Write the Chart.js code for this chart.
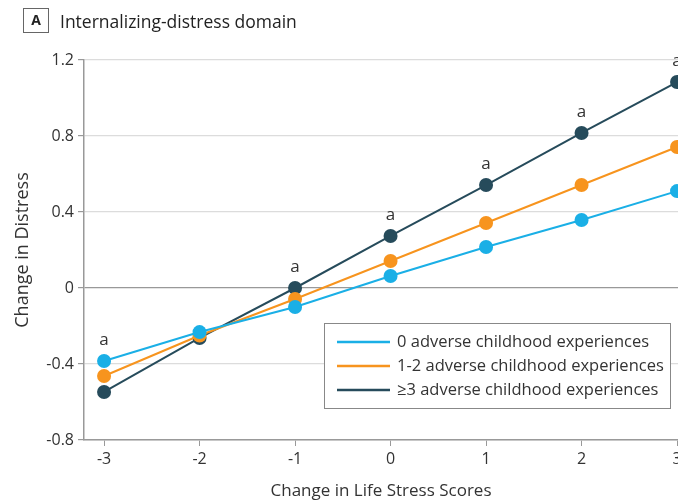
<!DOCTYPE html>
<html>
<head>
<meta charset="utf-8">
<script src="https://cdn.jsdelivr.net/npm/chart.js@4"></script>
<style>
  html, body { margin: 0; padding: 0; background: #fff; }
  #wrap { width: 678px; height: 501px; }
</style>
</head>
<body>
<div id="wrap"><canvas id="lineChart" width="678" height="501"></canvas></div>
<script>
// values
const stressScores = [-3, -2, -1, 0, 1, 2, 3];
const noAce = [-0.384, -0.232, -0.1, 0.063, 0.216, 0.358, 0.51];
const someAce = [-0.463, -0.25, -0.058, 0.142, 0.342, 0.542, 0.742];
const manyAce = [-0.547, -0.263, 0.0, 0.274, 0.542, 0.816, 1.084];
const yTicks = [-0.8, -0.4, 0, 0.4, 0.8, 1.2];
const sigScores = [-3, -1, 0, 1, 2, 3];   // points marked "a"

const seriesLabels = ["0 adverse childhood experiences", "1-2 adverse childhood experiences", "\u22653 adverse childhood experiences"];
const seriesColors = ["#1aafe6", "#f7941e", "#264b5b"];

const FONT = "'Open Sans', sans-serif";

function points(vals) {
  return stressScores.map((x, i) => ({ x: x, y: vals[i] }));
}

// title, "a" marks and boxed legend
const extras = {
  id: "extras",
  afterDraw(chart) {
    const ctx = chart.ctx;
    const xs = chart.scales.x, ys = chart.scales.y;
    ctx.save();

    // panel title
    ctx.strokeStyle = "#666";
    ctx.lineWidth = 1;
    ctx.strokeRect(23.5, 8.5, 25, 24);
    ctx.fillStyle = "#222";
    ctx.font = "bold 14px " + FONT;
    ctx.textAlign = "center";
    ctx.textBaseline = "middle";
    ctx.fillText("A", 36, 21);
    ctx.font = "17.5px " + FONT;
    ctx.textAlign = "left";
    ctx.textBaseline = "alphabetic";
    ctx.fillText("Internalizing-distress domain", 60, 28);

    // significance marks
    ctx.font = "17px " + FONT;
    ctx.textAlign = "center";
    ctx.textBaseline = "middle";
    ctx.fillStyle = "#333";
    sigScores.forEach(s => {
      const i = stressScores.indexOf(s);
      const top = Math.max(noAce[i], someAce[i], manyAce[i]);
      ctx.fillText("a", xs.getPixelForValue(s), ys.getPixelForValue(top) - 21);
    });

    // legend
    ctx.fillStyle = "#fff";
    ctx.fillRect(324, 323, 346, 85);
    ctx.strokeStyle = "#888";
    ctx.strokeRect(324.5, 323.5, 346, 85);
    ctx.font = "16.5px " + FONT;
    ctx.textAlign = "left";
    chart.data.datasets.forEach((ds, k) => {
      const y = 342 + k * 24;
      ctx.strokeStyle = ds.borderColor;
      ctx.lineWidth = 2.5;
      ctx.beginPath();
      ctx.moveTo(337, y);
      ctx.lineTo(390, y);
      ctx.stroke();
      ctx.fillStyle = "#333";
      ctx.fillText(ds.label, 397, y);
    });
    ctx.restore();
  }
};

new Chart(document.getElementById("lineChart"), {
  type: "line",
  data: {
    datasets: [noAce, someAce, manyAce].map((vals, k) => ({
      label: seriesLabels[k],
      data: points(vals),
      borderColor: seriesColors[k],
      backgroundColor: seriesColors[k],
      borderWidth: 2,
      pointRadius: 7,
      pointHoverRadius: 7,
      pointBorderWidth: 0,
      clip: false
    }))
  },
  options: {
    responsive: false,
    animation: false,
    events: [],
    layout: { autoPadding: false, padding: { top: 60, left: 0, right: 0, bottom: 0 } },
    plugins: {
      legend: { display: false },
      tooltip: { enabled: false }
    },
    scales: {
      x: {
        type: "linear",
        min: -3.21,
        max: 3.01,
        afterBuildTicks(scale) { scale.ticks = stressScores.map(v => ({ value: v })); },
        afterFit(scale) { scale.height = 61; scale.paddingRight = 0; scale.paddingLeft = 0; },
        border: { color: "#999", width: 1.5 },
        grid: { drawOnChartArea: false, drawTicks: true, tickLength: 6, tickColor: "#999" },
        ticks: { color: "#333", font: { family: FONT, size: 16 }, padding: 4, maxRotation: 0 },
        title: { display: true, text: "Change in Life Stress Scores", color: "#333", font: { family: FONT, size: 17 }, padding: { top: 2, bottom: 0 } }
      },
      y: {
        min: -0.8,
        max: 1.2,
        afterBuildTicks(scale) { scale.ticks = yTicks.map(v => ({ value: v })); },
        afterFit(scale) { scale.width = 84; },
        border: { color: "#999", width: 1.5 },
        grid: {
          color: ctx => ctx.tick && ctx.tick.value === 0 ? "#999" : "#dcdcdc",
          lineWidth: 1.2,
          tickLength: 6,
          tickColor: "#999"
        },
        ticks: {
          color: "#333",
          font: { family: FONT, size: 16 },
          padding: 4,
          callback: v => String(v)
        },
        title: { display: true, text: "Change in Distress", color: "#333", font: { family: FONT, size: 18 }, padding: { top: 12, bottom: 4 } }
      }
    }
  },
  plugins: [extras]
});
</script>
</body>
</html>
